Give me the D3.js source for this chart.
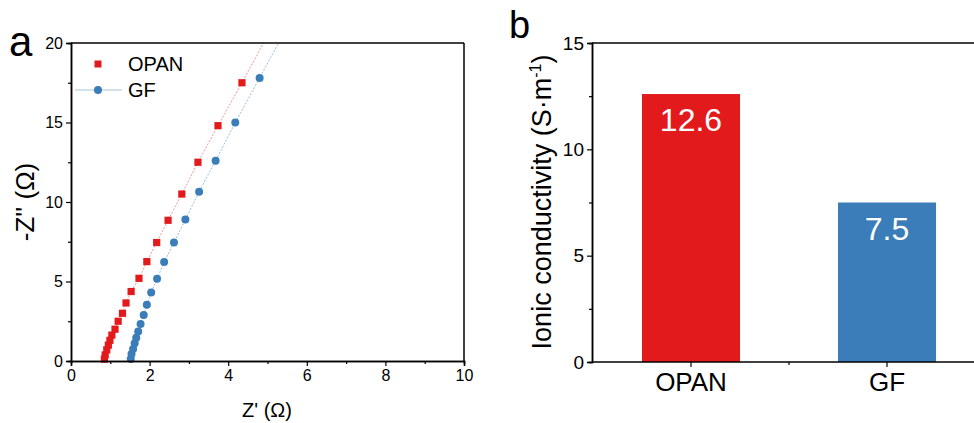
<!DOCTYPE html>
<html><head><meta charset="utf-8">
<script src="https://cdn.jsdelivr.net/npm/d3@7"></script>
<style>body{margin:0;background:#fff}svg{display:block}text{font-family:"Liberation Sans",Arial,sans-serif}</style>
</head><body>
<svg id="c" width="974" height="423"></svg>
<script>
// ---- Panel a data (Nyquist) ----
const opanZre = [0.85,0.87,0.91,0.95,0.99,1.04,1.12,1.20,1.31,1.40,1.53,1.73,1.93,2.18,2.47,2.82,3.23,3.74,4.35];
const opanZim = [0.12,0.38,0.70,1.00,1.30,1.63,2.00,2.50,3.00,3.65,4.37,5.20,6.25,7.45,8.85,10.5,12.5,14.8,17.5];
const gfZre = [1.52,1.54,1.58,1.62,1.66,1.71,1.77,1.85,1.93,2.04,2.19,2.37,2.62,2.91,3.26,3.68,4.18,4.80];
const gfZim = [0.13,0.44,0.76,1.12,1.47,1.85,2.33,2.90,3.53,4.31,5.17,6.22,7.45,8.90,10.65,12.6,15.0,17.8];
const opanLineEnd = [4.9, 20];
const gfLineEnd = [5.28, 20];
const xTicksA = [0,2,4,6,8,10];
const yTicksA = [0,5,10,15,20];
// ---- Panel b data (bars) ----
const categories = ["OPAN","GF"];
const conductivity = [12.6, 7.5];
const yTicksB = [0,5,10,15];

const RED = "#e31a1c", BLUE = "#3a7db8";
const svg = d3.select("#c");

// ===== Panel a =====
const ax = d3.scaleLinear().domain([0,10]).range([71,464]);
const ay = d3.scaleLinear().domain([0,20]).range([361,43]);
const ga = svg.append("g");
svg.append("defs").append("clipPath").attr("id","clipA")
  .append("rect").attr("x",71).attr("y",43).attr("width",393).attr("height",318);

const lineGen = d3.line().x(d=>ax(d[0])).y(d=>ay(d[1]));
const opanPts = opanZre.map((x,i)=>[x,opanZim[i]]);
const gfPts = gfZre.map((x,i)=>[x,gfZim[i]]);
ga.append("path").attr("clip-path","url(#clipA)").attr("d", lineGen(opanPts.concat([opanLineEnd])))
  .attr("fill","none").attr("stroke","#ef8a8a").attr("stroke-width",0.9).attr("stroke-dasharray","2,1.5");
ga.append("path").attr("clip-path","url(#clipA)").attr("d", lineGen(gfPts.concat([gfLineEnd])))
  .attr("fill","none").attr("stroke","#8fb6d6").attr("stroke-width",0.9).attr("stroke-dasharray","2,1.5");

ga.selectAll("rect.sq").data(opanPts).enter().append("rect").attr("class","sq")
  .attr("x",d=>ax(d[0])-3.6).attr("y",d=>ay(d[1])-3.6).attr("width",7.2).attr("height",7.2).attr("fill",RED);
ga.selectAll("circle.ci").data(gfPts).enter().append("circle").attr("class","ci")
  .attr("cx",d=>ax(d[0])).attr("cy",d=>ay(d[1])).attr("r",4).attr("fill",BLUE);

// axes
const xAxA = d3.axisBottom(ax).tickValues(xTicksA).tickSize(5).tickPadding(4).tickFormat(d3.format("d"));
const xMinA = d3.axisBottom(ax).tickValues([1,3,5,7,9]).tickSize(3).tickFormat("");
const yAxA = d3.axisLeft(ay).tickValues(yTicksA).tickSize(5).tickPadding(3).tickFormat(d3.format("d"));
const yMinA = d3.axisLeft(ay).tickValues([2.5,7.5,12.5,17.5]).tickSize(3).tickFormat("");
function styleAxis(g, fs){
  g.select(".domain").attr("stroke","#000").attr("stroke-width",1.5);
  g.selectAll(".tick line").attr("stroke","#000").attr("stroke-width",1.2);
  g.selectAll("text").attr("font-size",fs).attr("fill","#000").attr("font-family","Liberation Sans, Arial, sans-serif");
}
styleAxis(ga.append("g").attr("transform","translate(0,361)").call(xMinA),16);
styleAxis(ga.append("g").attr("transform","translate(0,361)").call(xAxA),16);
styleAxis(ga.append("g").attr("transform","translate(71,0)").call(yMinA),16);
styleAxis(ga.append("g").attr("transform","translate(71,0)").call(yAxA),16);
ga.append("line").attr("x1",71).attr("x2",464).attr("y1",43).attr("y2",43).attr("stroke","#000").attr("stroke-width",1.5);
ga.append("line").attr("x1",464).attr("x2",464).attr("y1",43).attr("y2",361).attr("stroke","#000").attr("stroke-width",1.5);

ga.append("text").attr("x",267).attr("y",417).attr("text-anchor","middle").attr("font-size",20).text("Z' (Ω)");
ga.append("text").attr("transform","translate(34,202) rotate(-90)").attr("text-anchor","middle").attr("font-size",26).text("-Z'' (Ω)");
ga.append("text").attr("x",9).attr("y",56).attr("font-size",42).attr("font-family","Open Sans, sans-serif").text("a");

// legend
ga.append("rect").attr("x",98-3.5).attr("y",64-3.5).attr("width",7).attr("height",7).attr("fill",RED);
ga.append("text").attr("x",128).attr("y",64).attr("dy","0.36em").attr("font-size",20).text(categories[0]);
ga.append("line").attr("x1",75).attr("x2",122).attr("y1",90).attr("y2",90).attr("stroke","#a9c6de").attr("stroke-width",1.2);
ga.append("circle").attr("cx",98).attr("cy",90).attr("r",4).attr("fill",BLUE);
ga.append("text").attr("x",128).attr("y",90).attr("dy","0.36em").attr("font-size",20).text(categories[1]);

// ===== Panel b =====
const bx = d3.scaleBand().domain(categories).range([593,985]).paddingInner(0).paddingOuter(0);
const by = d3.scaleLinear().domain([0,15]).range([362,43]);
const gb = svg.append("g");
const colors = [RED, BLUE];
const bw = bx.bandwidth()*0.5;
gb.selectAll("rect.bar").data(categories).enter().append("rect").attr("class","bar")
  .attr("x",d=>bx(d)+bx.bandwidth()/2-bw/2).attr("width",bw)
  .attr("y",(d,i)=>by(conductivity[i])).attr("height",(d,i)=>by(0)-by(conductivity[i]))
  .attr("fill",(d,i)=>colors[i]);
gb.selectAll("text.val").data(categories).enter().append("text").attr("class","val")
  .attr("x",d=>bx(d)+bx.bandwidth()/2).attr("y",(d,i)=>by(conductivity[i])+37)
  .attr("text-anchor","middle").attr("fill","#fff").attr("font-size",32)
  .text((d,i)=>conductivity[i].toFixed(1));

const xAxB = d3.axisBottom(bx).tickSize(5).tickPadding(6);
const yAxB = d3.axisLeft(by).tickValues(yTicksB).tickSize(5).tickPadding(3).tickFormat(d3.format("d"));
const yMinB = d3.axisLeft(by).tickValues([2.5,7.5,12.5]).tickSize(3).tickFormat("");
const gxb = gb.append("g").attr("transform","translate(0,362)").call(xAxB);
styleAxis(gxb,26);
gxb.select(".domain").attr("d","M592,0H974");
gb.append("line").attr("x1",bx(categories[1])).attr("x2",bx(categories[1])).attr("y1",362).attr("y2",365).attr("stroke","#000").attr("stroke-width",1.2);
styleAxis(gb.append("g").attr("transform","translate(592,0)").call(yMinB),19);
styleAxis(gb.append("g").attr("transform","translate(592,0)").call(yAxB),19);
gb.append("line").attr("x1",592).attr("x2",974).attr("y1",43).attr("y2",43).attr("stroke","#000").attr("stroke-width",1.5);

const yl = gb.append("text").attr("transform","translate(551,202) rotate(-90)").attr("text-anchor","middle").attr("font-size",27);
yl.append("tspan").text("Ionic conductivity (S·m");
yl.append("tspan").attr("font-size",16).attr("dy",-10).text("-1");
yl.append("tspan").attr("dy",10).text(")");
gb.append("text").attr("x",509).attr("y",38).attr("font-size",38).attr("font-family","Open Sans, sans-serif").text("b");
</script>
</body></html>
